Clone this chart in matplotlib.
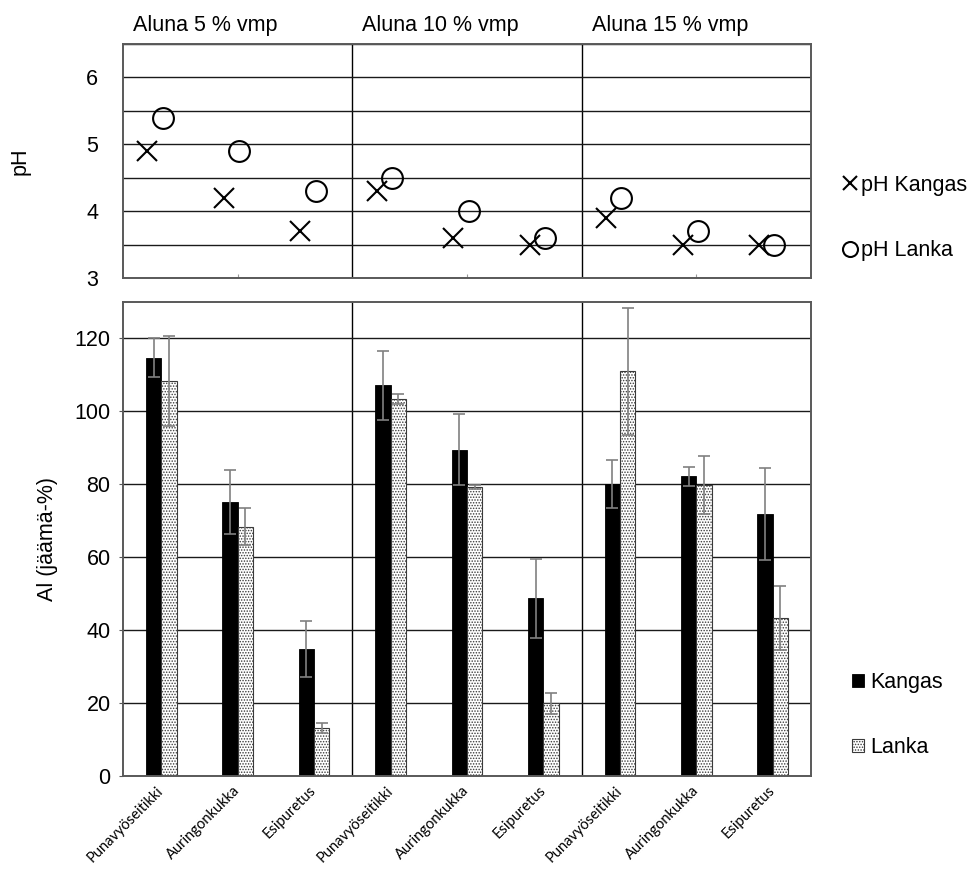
import matplotlib
matplotlib.use('Agg')
import matplotlib.pyplot as plt
import numpy as np
from matplotlib.ticker import MultipleLocator, FixedLocator
from matplotlib.transforms import blended_transform_factory

plt.rcParams['font.family'] = ['Liberation Sans', 'DejaVu Sans']
plt.rcParams['hatch.linewidth'] = 0.7

# ---------------- data ----------------
groups = ['Aluna 5 % vmp', 'Aluna 10 % vmp', 'Aluna 15 % vmp']
dyes = ['Punavyöseitikki', 'Auringonkukka', 'Esipuretus']
categories = dyes * 3

ph_kangas = [4.9, 4.2, 3.7, 4.3, 3.6, 3.5, 3.9, 3.5, 3.5]
ph_lanka = [5.4, 4.9, 4.3, 4.5, 4.0, 3.6, 4.2, 3.7, 3.5]

al_kangas = [114.7, 75.1, 34.9, 107.1, 89.5, 48.7, 80.1, 82.2, 71.9]
al_kangas_err = [5.3, 8.8, 7.7, 9.4, 9.7, 10.9, 6.5, 2.6, 12.6]
al_lanka = [108.4, 68.4, 13.2, 103.4, 79.3, 19.9, 111.0, 79.9, 43.3]
al_lanka_err = [12.3, 5.0, 1.3, 1.5, 0.5, 3.0, 17.4, 8.0, 8.8]

ph_ticks = [3, 4, 5, 6]
al_ticks = [0, 20, 40, 60, 80, 100, 120]

# ---------------- layout ----------------
W, H = 980, 890
fig = plt.figure(figsize=(W / 100, H / 100), dpi=100)
L, R = 123, 811
ax_top = fig.add_axes([L / W, 1 - 278 / H, (R - L) / W, (278 - 44) / H])
ax_bot = fig.add_axes([L / W, 1 - 776 / H, (R - L) / W, (776 - 302) / H])

x = np.arange(len(categories))
FS = 15.5
frame_col = '#595959'
grid_col = '#1a1a1a'

for ax in (ax_top, ax_bot):
    ax.set_xlim(-0.5, len(categories) - 0.5)
    for s in ax.spines.values():
        s.set_color(frame_col)
        s.set_linewidth(1.4)
    ax.set_axisbelow(True)
    for sep in (2.5, 5.5):
        ax.axvline(sep, color='black', lw=1.0, zorder=0.5)

# ---------------- top pH panel ----------------
ax_top.set_ylim(3, 6.5)
ax_top.yaxis.set_major_locator(FixedLocator(ph_ticks))
ax_top.yaxis.set_minor_locator(MultipleLocator(0.5))
ax_top.grid(axis='y', which='both', color=grid_col, lw=1.0)
ax_top.tick_params(axis='y', which='major', labelsize=FS, length=0, pad=18)
ax_top.tick_params(axis='y', which='minor', length=0)
ax_top.set_xticks([1, 4, 7])
ax_top.set_xticklabels([])
ax_top.tick_params(axis='x', direction='in', length=3, color='#999999')

ax_top.plot(x - 0.18, ph_kangas, linestyle='none', marker='x', markersize=14,
            markeredgewidth=1.5, color='black', label='pH Kangas', zorder=3)
ax_top.plot(x + 0.02, ph_lanka, linestyle='none', marker='o', markersize=15,
            markerfacecolor='none', markeredgewidth=1.5, color='black',
            label='pH Lanka', zorder=3)
ax_top.set_ylabel('pH', fontsize=FS)
ax_top.yaxis.set_label_coords(-0.134, 0.5)

tr = blended_transform_factory(ax_top.transData, ax_top.transAxes)
for i, g in enumerate(groups):
    ax_top.text(3 * i - 0.5 + 0.13, 1.077, g, transform=tr, fontsize=FS,
                ha='left', va='center')

ax_top.legend(loc='center left', bbox_to_anchor=(842 / W, 1 - 218 / H),
              bbox_transform=fig.transFigure, frameon=False,
              fontsize=FS, markerscale=0.72, handlelength=0.7,
              handletextpad=0.2, labelspacing=2.05, borderpad=0,
              borderaxespad=0)

# ---------------- bottom Al panel ----------------
ax_bot.set_ylim(0, 130)
ax_bot.yaxis.set_major_locator(FixedLocator(al_ticks))
ax_bot.grid(axis='y', color=grid_col, lw=1.0)
ax_bot.tick_params(axis='y', labelsize=FS, length=3, color=frame_col, pad=6)

bw = 0.2
err_kw = dict(ecolor='#808080', elinewidth=1.2, capsize=4, capthick=1.2)
ax_bot.bar(x - bw / 2, al_kangas, bw, yerr=al_kangas_err, color='black',
           edgecolor='black', linewidth=0.6, error_kw=err_kw, label='Kangas',
           zorder=2)
ax_bot.bar(x + bw / 2, al_lanka, bw, yerr=al_lanka_err, color='white',
           edgecolor='#3a3a3a', linewidth=0.8, hatch='......', error_kw=err_kw,
           label='Lanka', zorder=2)

ax_bot.set_xticks(x)
ax_bot.set_xticklabels(categories, rotation=45, ha='right', va='center',
                       rotation_mode='anchor', fontsize=10.5,
                       fontfamily=['Lato', 'DejaVu Sans'])
ax_bot.tick_params(axis='x', length=0, pad=9)
ax_bot.set_ylabel('Al (jäämä-%)', fontsize=FS)
ax_bot.yaxis.set_label_coords(-0.094, 0.5)

ax_bot.legend(loc='center left', bbox_to_anchor=(852 / W, 1 - 715 / H),
              bbox_transform=fig.transFigure, frameon=False,
              fontsize=FS, handlelength=0.55, handleheight=0.55,
              handletextpad=0.3, labelspacing=2.05, borderpad=0,
              borderaxespad=0)

fig.savefig('out.png', dpi=100, facecolor='white')
